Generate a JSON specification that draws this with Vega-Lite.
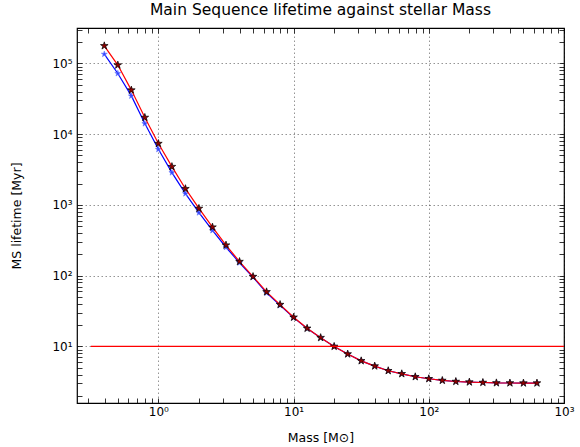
{
  "$schema": "https://vega.github.io/schema/vega-lite/v6.json",
  "width": 487,
  "height": 375,
  "autosize": {"type": "none"},
  "padding": {"left": 77, "top": 28, "right": 16, "bottom": 44},
  "background": "white",
  "title": {"text": "Main Sequence lifetime against stellar Mass", "font": "DejaVu Sans", "fontSize": 15.5, "fontWeight": "normal", "color": "#000000", "offset": 5, "anchor": "middle"},
  "config": {
    "view": {"stroke": "#000000", "strokeWidth": 1.2},
    "axis": {
      "domain": false,
      "labelFont": "DejaVu Sans",
      "labelFontSize": 12,
      "labelColor": "#000000",
      "titleFont": "DejaVu Sans",
      "titleFontSize": 12.5,
      "titleFontWeight": "normal",
      "titleColor": "#000000",
      "tickColor": "#000000",
      "tickWidth": 0.8,
      "gridColor": "#000000",
      "gridDash": [1.5, 2.5],
      "gridWidth": 0.7,
      "labelOverlap": false,
      "labelFlush": false
    }
  },
  "datasets": {
    "curves": [
      {"mass": 0.398, "t": 177000, "series": "R"},
      {"mass": 0.501, "t": 94600, "series": "R"},
      {"mass": 0.631, "t": 41900, "series": "R"},
      {"mass": 0.794, "t": 17200, "series": "R"},
      {"mass": 1.0, "t": 7360, "series": "R"},
      {"mass": 1.259, "t": 3475, "series": "R"},
      {"mass": 1.585, "t": 1694, "series": "R"},
      {"mass": 1.995, "t": 891, "series": "R"},
      {"mass": 2.512, "t": 485, "series": "R"},
      {"mass": 3.162, "t": 270, "series": "R"},
      {"mass": 3.981, "t": 158, "series": "R"},
      {"mass": 5.012, "t": 97, "series": "R"},
      {"mass": 6.31, "t": 59, "series": "R"},
      {"mass": 7.943, "t": 39, "series": "R"},
      {"mass": 10.0, "t": 25.8, "series": "R"},
      {"mass": 12.59, "t": 18.0, "series": "R"},
      {"mass": 15.85, "t": 13.3, "series": "R"},
      {"mass": 19.95, "t": 10.0, "series": "R"},
      {"mass": 25.12, "t": 7.8, "series": "R"},
      {"mass": 31.62, "t": 6.25, "series": "R"},
      {"mass": 39.81, "t": 5.27, "series": "R"},
      {"mass": 50.12, "t": 4.53, "series": "R"},
      {"mass": 63.1, "t": 4.1, "series": "R"},
      {"mass": 79.43, "t": 3.72, "series": "R"},
      {"mass": 100.0, "t": 3.49, "series": "R"},
      {"mass": 125.9, "t": 3.3, "series": "R"},
      {"mass": 158.5, "t": 3.19, "series": "R"},
      {"mass": 199.5, "t": 3.13, "series": "R"},
      {"mass": 251.2, "t": 3.09, "series": "R"},
      {"mass": 316.2, "t": 3.05, "series": "R"},
      {"mass": 398.1, "t": 3.04, "series": "R"},
      {"mass": 501.2, "t": 3.03, "series": "R"},
      {"mass": 631.0, "t": 3.03, "series": "R"},
      {"mass": 0.398, "t": 135000, "series": "B"},
      {"mass": 0.501, "t": 72000, "series": "B"},
      {"mass": 0.631, "t": 34700, "series": "B"},
      {"mass": 0.794, "t": 14100, "series": "B"},
      {"mass": 1.0, "t": 6100, "series": "B"},
      {"mass": 1.259, "t": 2860, "series": "B"},
      {"mass": 1.585, "t": 1443, "series": "B"},
      {"mass": 1.995, "t": 776, "series": "B"},
      {"mass": 2.512, "t": 435, "series": "B"},
      {"mass": 3.162, "t": 252, "series": "B"},
      {"mass": 3.981, "t": 152, "series": "B"},
      {"mass": 5.012, "t": 95, "series": "B"},
      {"mass": 6.31, "t": 57, "series": "B"},
      {"mass": 7.943, "t": 38, "series": "B"},
      {"mass": 10.0, "t": 25.5, "series": "B"},
      {"mass": 12.59, "t": 17.9, "series": "B"},
      {"mass": 15.85, "t": 13.2, "series": "B"},
      {"mass": 19.95, "t": 10.0, "series": "B"},
      {"mass": 25.12, "t": 7.8, "series": "B"},
      {"mass": 31.62, "t": 6.25, "series": "B"},
      {"mass": 39.81, "t": 5.27, "series": "B"},
      {"mass": 50.12, "t": 4.53, "series": "B"},
      {"mass": 63.1, "t": 4.1, "series": "B"},
      {"mass": 79.43, "t": 3.72, "series": "B"},
      {"mass": 100.0, "t": 3.49, "series": "B"},
      {"mass": 125.9, "t": 3.3, "series": "B"},
      {"mass": 158.5, "t": 3.19, "series": "B"},
      {"mass": 199.5, "t": 3.13, "series": "B"},
      {"mass": 251.2, "t": 3.09, "series": "B"},
      {"mass": 316.2, "t": 3.05, "series": "B"},
      {"mass": 398.1, "t": 3.04, "series": "B"},
      {"mass": 501.2, "t": 3.03, "series": "B"},
      {"mass": 631.0, "t": 3.03, "series": "B"}
    ],
    "hline": [
      {"mass": 0.316, "t": 10},
      {"mass": 1000, "t": 10}
    ]
  },
  "layer": [
    {
      "encoding": {
        "x": {"field": "mass", "type": "quantitative", "scale": {"type": "log", "domain": [0.25, 1000], "nice": false},
          "axis": {"orient": "bottom", "title": "Mass [M⊙]", "titleBaseline": "middle", "titleY": 34,
            "values": [0.3,0.4,0.5,0.6,0.7,0.8,0.9,1,2,3,4,5,6,7,8,9,10,20,30,40,50,60,70,80,90,100,200,300,400,500,600,700,800,900,1000],
            "labelExpr": "datum.value == 1 ? '10⁰' : datum.value == 10 ? '10¹' : datum.value == 100 ? '10²' : datum.value == 1000 ? '10³' : ''",
            "labelPadding": 8,
            "tickSize": -5,
            "gridOpacity": {"condition": {"test": "abs(log(datum.value)/LN10 - round(log(datum.value)/LN10)) < 0.01", "value": 0.6}, "value": 0}}},
        "y": {"field": "t", "type": "quantitative", "scale": {"type": "log", "domain": [1.585, 316228], "nice": false},
          "axis": {"orient": "left", "title": "MS lifetime [Myr]", "titleBaseline": "middle", "titleX": -61,
            "values": [2,3,4,5,6,7,8,9,10,20,30,40,50,60,70,80,90,100,200,300,400,500,600,700,800,900,1000,2000,3000,4000,5000,6000,7000,8000,9000,10000,20000,30000,40000,50000,60000,70000,80000,90000,100000,200000,300000],
            "labelExpr": "datum.value == 10 ? '10¹' : datum.value == 100 ? '10²' : datum.value == 1000 ? '10³' : datum.value == 10000 ? '10⁴' : datum.value == 100000 ? '10⁵' : ''",
            "labelPadding": 10,
            "tickSize": -5,
            "gridOpacity": {"condition": {"test": "abs(log(datum.value)/LN10 - round(log(datum.value)/LN10)) < 0.01", "value": 0.6}, "value": 0}}}
      },
      "layer": [
        {
          "data": {"name": "curves"},
          "transform": [{"filter": "datum.series == 'B'"}],
          "mark": {"type": "line", "color": "#0000ff", "strokeWidth": 1.2}
        },
        {
          "data": {"name": "curves"},
          "transform": [{"filter": "datum.series == 'B'"}],
          "mark": {"type": "point", "shape": "M0,-1L0.225,-0.309L0.951,-0.309L0.363,0.118L0.588,0.809L0,0.382L-0.588,0.809L-0.363,0.118L-0.951,-0.309L-0.225,-0.309Z", "filled": true, "fill": "#3344ff", "stroke": "#6677ff", "strokeWidth": 0.6, "size": 40, "opacity": 1}
        },
        {
          "data": {"name": "curves"},
          "transform": [{"filter": "datum.series == 'R'"}],
          "mark": {"type": "line", "color": "#ff0000", "strokeWidth": 1.2}
        },
        {
          "data": {"name": "curves"},
          "transform": [{"filter": "datum.series == 'R'"}],
          "mark": {"type": "point", "shape": "M0,-1L0.225,-0.309L0.951,-0.309L0.363,0.118L0.588,0.809L0,0.382L-0.588,0.809L-0.363,0.118L-0.951,-0.309L-0.225,-0.309Z", "filled": true, "fill": "#900000", "stroke": "#000000", "strokeWidth": 0.7, "size": 64, "opacity": 1}
        }
      ]
    },
    {
      "data": {"name": "hline"},
      "mark": {"type": "line", "color": "#ff0000", "strokeWidth": 1.2},
      "encoding": {
        "x": {"field": "mass", "type": "quantitative", "scale": {"type": "log", "domain": [0.25, 1000], "nice": false},
          "axis": {"orient": "top", "labels": false, "grid": false, "title": null, "tickSize": -5,
            "values": [0.3,0.4,0.5,0.6,0.7,0.8,0.9,1,2,3,4,5,6,7,8,9,10,20,30,40,50,60,70,80,90,100,200,300,400,500,600,700,800,900,1000]}},
        "y": {"field": "t", "type": "quantitative", "scale": {"type": "log", "domain": [1.585, 316228], "nice": false},
          "axis": {"orient": "right", "labels": false, "grid": false, "title": null, "tickSize": -5,
            "values": [2,3,4,5,6,7,8,9,10,20,30,40,50,60,70,80,90,100,200,300,400,500,600,700,800,900,1000,2000,3000,4000,5000,6000,7000,8000,9000,10000,20000,30000,40000,50000,60000,70000,80000,90000,100000,200000,300000]}}
      }
    }
  ],
  "resolve": {"axis": {"x": "independent", "y": "independent"}}
}
